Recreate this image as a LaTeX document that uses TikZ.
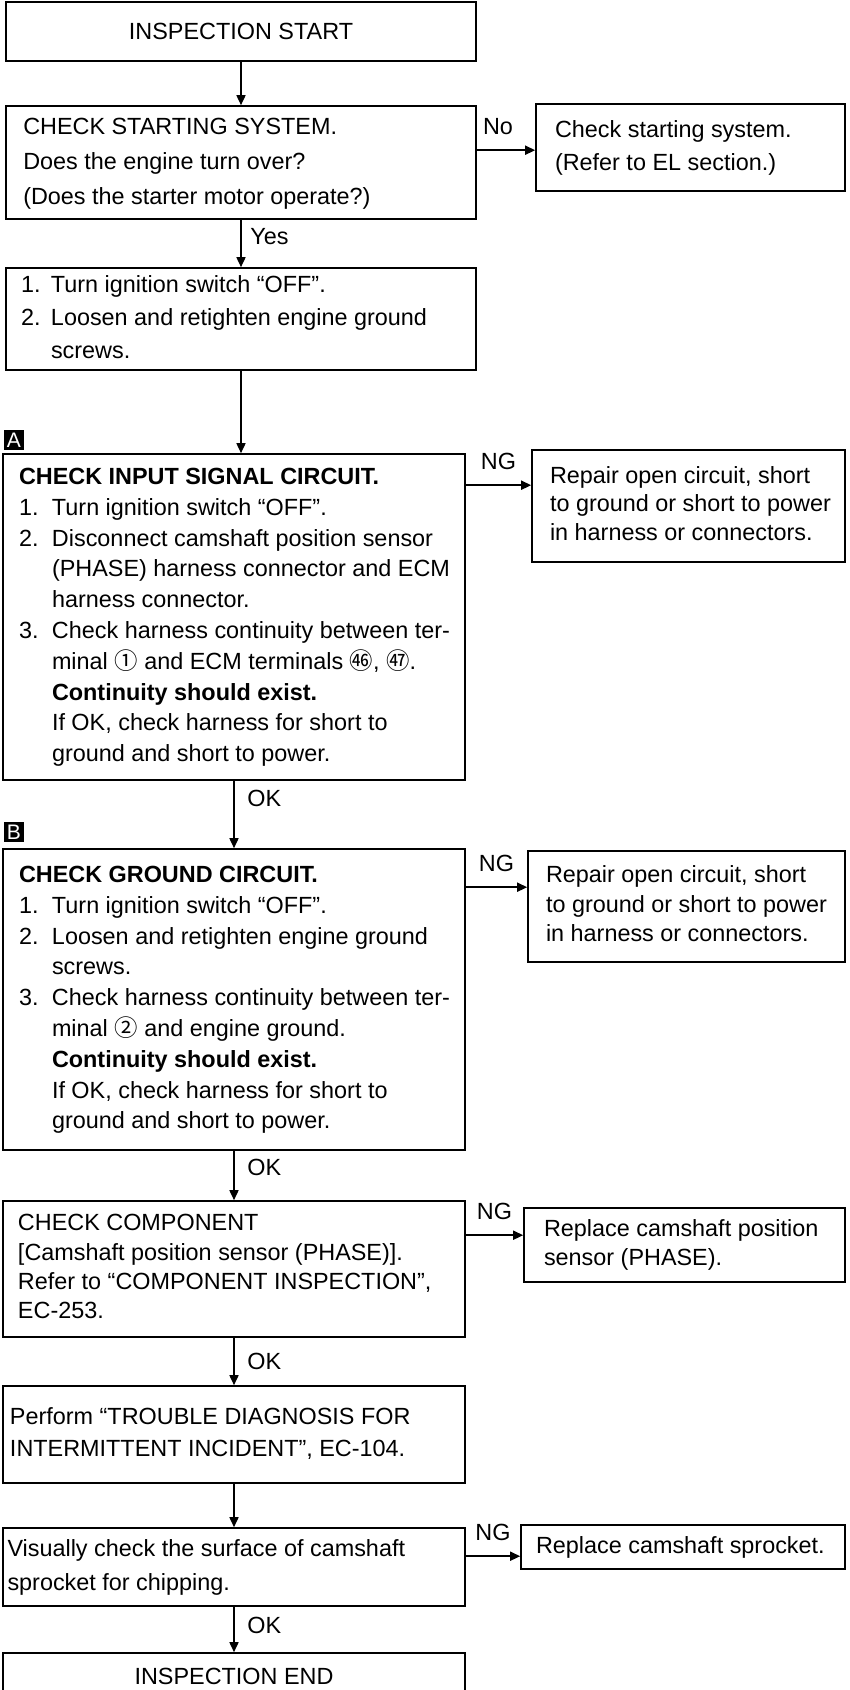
\documentclass[tikz,border=0pt]{standalone}
\usepackage{fontspec}
\setmainfont{Liberation Sans}
\newfontfamily\cjk{Noto Sans CJK JP}
\usetikzlibrary{arrows.meta, positioning}
\newlength{\itmw}
\setlength{\itmw}{16.5pt}
\newcommand{\itm}[1]{\makebox[\itmw][l]{#1}}
\newcommand{\ind}{\hspace*{\itmw}}
% lines of a box, left aligned, set in a block of given width
\newcommand{\boxlines}[3][15.4pt]{\makebox[#2][l]{\fontsize{11.7}{#1}\selectfont
		\begin{tabular}{@{}l@{}}#3\end{tabular}}}
\tikzset{
	stepbox/.style={
			draw=black,
			line width=0.8pt,
			rectangle,
			inner sep=0pt,
			font=\fontsize{11.7}{15.4}\selectfont
		},
	markbox/.style={
			fill=black,
			text=white,
			inner sep=0pt,
			minimum width=10pt,
			minimum height=10pt,
			font=\fontsize{10.5}{10.5}\selectfont
		},
	flow/.style={
			line width=0.8pt,
			-{Triangle[length=5pt,width=4.5pt]}
		},
	flowlabel/.style={
			font=\fontsize{11.7}{14}\selectfont
		}
}

\begin{document}
\begin{tikzpicture}[x=0.5pt, y=-0.5pt]
\useasboundingbox (0,0) rectangle (850,1690);
\clip (0,0) rectangle (850,1690);

\node[stepbox, minimum width=235pt, minimum height=29.5pt] (start) at (241,31.5) {INSPECTION START};
\node[stepbox, minimum width=235pt, minimum height=56.5pt] (sys) at (241,162.5)
	{\boxlines[17.5pt]{217.75pt}{CHECK STARTING SYSTEM.\\ Does the engine turn over?\\ (Does the starter motor operate?)}};
\node[stepbox, minimum width=154.5pt, minimum height=43.5pt] (sysno) at (690.5,147.5)
	{\boxlines[16.5pt]{135.5pt}{Check starting system.\\ (Refer to EL section.)}};
\node[stepbox, minimum width=235pt, minimum height=51pt] (gnd) at (241,319)
	{\setlength{\itmw}{15pt}\boxlines[16.5pt]{220pt}{\itm{1.}Turn ignition switch “OFF”.\\ \itm{2.}Loosen and retighten engine ground\\ \ind screws.}};

\node[markbox] (mA) at (14,440) {A};
\node[stepbox, minimum width=231pt, minimum height=163pt] (inA) at (234,617)
	{\boxlines{215pt}{\textbf{CHECK INPUT SIGNAL CIRCUIT.}\\
		\itm{1.}Turn ignition switch “OFF”.\\
		\itm{2.}Disconnect camshaft position sensor\\
		\ind (PHASE) harness connector and ECM\\
		\ind harness connector.\\
		\itm{3.}Check harness continuity between ter-\\
		\ind minal {\cjk ①} and ECM terminals {\cjk ㊻}, {\cjk ㊼}.\\
		\ind\textbf{Continuity should exist.}\\
		\ind If OK, check harness for short to\\
		\ind ground and short to power.}};
\node[stepbox, minimum width=156.5pt, minimum height=56pt] (inAng) at (688.5,506)
	{\boxlines[14.25pt]{138.5pt}{Repair open circuit, short\\ to ground or short to power\\ in harness or connectors.}};

\node[markbox] (mB) at (14,832) {B};
\node[stepbox, minimum width=231pt, minimum height=150.5pt] (gB) at (234,999.5)
	{\boxlines{215pt}{\textbf{CHECK GROUND CIRCUIT.}\\
		\itm{1.}Turn ignition switch “OFF”.\\
		\itm{2.}Loosen and retighten engine ground\\
		\ind screws.\\
		\itm{3.}Check harness continuity between ter-\\
		\ind minal {\cjk ②} and engine ground.\\
		\ind\textbf{Continuity should exist.}\\
		\ind If OK, check harness for short to\\
		\ind ground and short to power.}};
\node[stepbox, minimum width=158.5pt, minimum height=55.5pt] (gBng) at (686.5,906.5)
	{\boxlines[14.75pt]{140.5pt}{Repair open circuit, short\\ to ground or short to power\\ in harness or connectors.}};

\node[stepbox, minimum width=231pt, minimum height=68pt] (comp) at (234,1269)
	{\boxlines[14.7pt]{216pt}{CHECK COMPONENT\\ {[}Camshaft position sensor (PHASE)].\\ Refer to “COMPONENT INSPECTION”,\\ EC-253.}};
\node[stepbox, minimum width=160.5pt, minimum height=37pt] (compng) at (684.5,1245)
	{\boxlines[14.5pt]{140.5pt}{Replace camshaft position\\ sensor (PHASE).}};

\node[stepbox, minimum width=231pt, minimum height=48.5pt] (diag) at (234,1434.5)
	{\boxlines[16pt]{224pt}{Perform “TROUBLE DIAGNOSIS FOR\\ INTERMITTENT INCIDENT”, EC-104.}};
\node[stepbox, minimum width=231pt, minimum height=39pt] (spr) at (234,1567)
	{\boxlines[17pt]{226.5pt}{Visually check the surface of camshaft\\ sprocket for chipping.}};
\node[stepbox, minimum width=162pt, minimum height=22pt] (sprng) at (683,1547)
	{\boxlines{147pt}{Replace camshaft sprocket.}};
\node[stepbox, minimum width=231pt, minimum height=23.5pt] (fin) at (234,1676.5) {INSPECTION END};

% main line
\draw[flow] (start) -- (sys);
\draw[flow] (sys) -- node[flowlabel, right=1pt, pos=0.35] {Yes} (gnd);
\draw[flow] (gnd) -- (gnd.south |- inA.north);
\draw[flow] (inA) -- node[flowlabel, right=3pt, pos=0.26] {OK} (gB);
\draw[flow] (gB) -- node[flowlabel, right=3pt, pos=0.33] {OK} (comp);
\draw[flow] (comp) -- node[flowlabel, right=3pt, pos=0.5] {OK} (diag);
\draw[flow] (diag) -- (spr);
\draw[flow] (spr) -- node[flowlabel, right=3pt, pos=0.4] {OK} (fin);

% side branches
\path ([yshift=-23.5pt]sysno.north west) coordinate (sysin);
\path ([yshift=-18pt]inAng.north west) coordinate (inAin);
\path ([yshift=-18.5pt]gBng.north west) coordinate (gBin);
\path ([yshift=-14pt]compng.north west) coordinate (compin);
\path ([yshift=-16pt]sprng.north west) coordinate (sprin);
\draw[flow] (sys.east |- sysin) -- node[flowlabel, above=4pt, xshift=-4pt] {No} (sysin);
\draw[flow] (inA.east |- inAin) -- node[flowlabel, above=4pt] {NG} (inAin);
\draw[flow] (gB.east |- gBin) -- node[flowlabel, above=4pt] {NG} (gBin);
\draw[flow] (comp.east |- compin) -- node[flowlabel, above=4pt] {NG} (compin);
\draw[flow] (spr.east |- sprin) -- node[flowlabel, above=4pt] {NG} (sprin);
\end{tikzpicture}
\end{document}
